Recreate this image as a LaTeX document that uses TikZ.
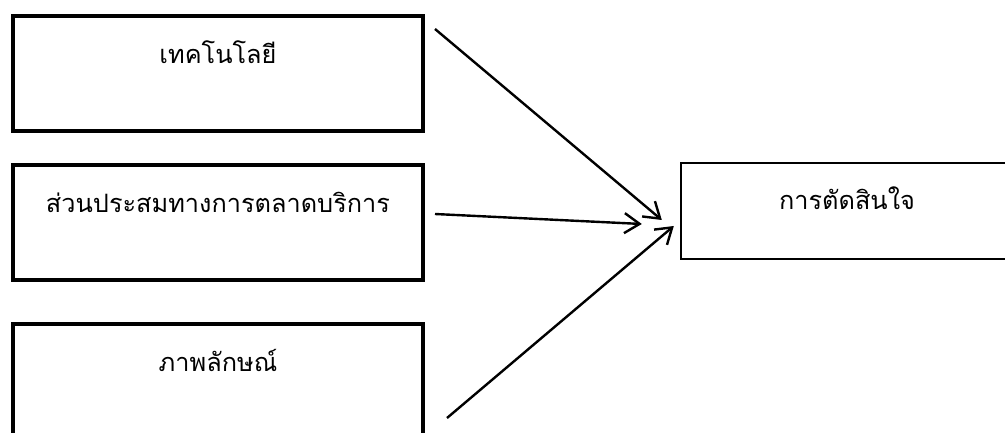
\documentclass[tikz,border=0pt]{standalone}
\usepackage{fontspec}
\setmainfont[Script=Thai]{Loma}
\usepackage{tikz}
\usetikzlibrary{positioning,calc,arrows.meta}

\begin{document}
\begin{tikzpicture}[
    >={Straight Barb[length=0.38cm,width=0.5cm]},
    faktor/.style={draw=black, line width=0.1cm, inner sep=0pt,
        minimum width=10.25cm, text height=1.2cm, text depth=1.675cm,
        font=\fontsize{18}{21}\selectfont, align=center},
    hasil/.style={draw=black, line width=0.06cm, inner sep=0pt,
        minimum width=8.3cm, text height=1.175cm, text depth=1.225cm,
        font=\fontsize{18}{21}\selectfont, align=center},
    panah/.style={->, line width=0.06cm, black}]
  \useasboundingbox (0,0) rectangle (25.125,10.8);
  \node[faktor] (tech) at (5.45,8.9625) {เทคโนโลยี};
  \node[faktor, below=0.75cm of tech] (mix) {ส่วนประสมทางการตลาดบริการ};
  \node[faktor, below=1.0cm of mix] (image) {ภาพลักษณ์};
  \node[hasil] (decision) at (21.175,5.525) {การตัดสินใจ};
  \draw[panah] ($(tech.north east)+(0.25,-0.375)$) -- ($(decision.west)+(-0.45,-0.225)$);
  \draw[panah] ($(mix.east)+(0.25,0.2125)$) -- ($(decision.west)+(-0.95,-0.325)$);
  \draw[panah] ($(image.east)+(0.55,-0.9125)$) -- ($(decision.west)+(-0.15,-0.375)$);
\end{tikzpicture}
\end{document}
